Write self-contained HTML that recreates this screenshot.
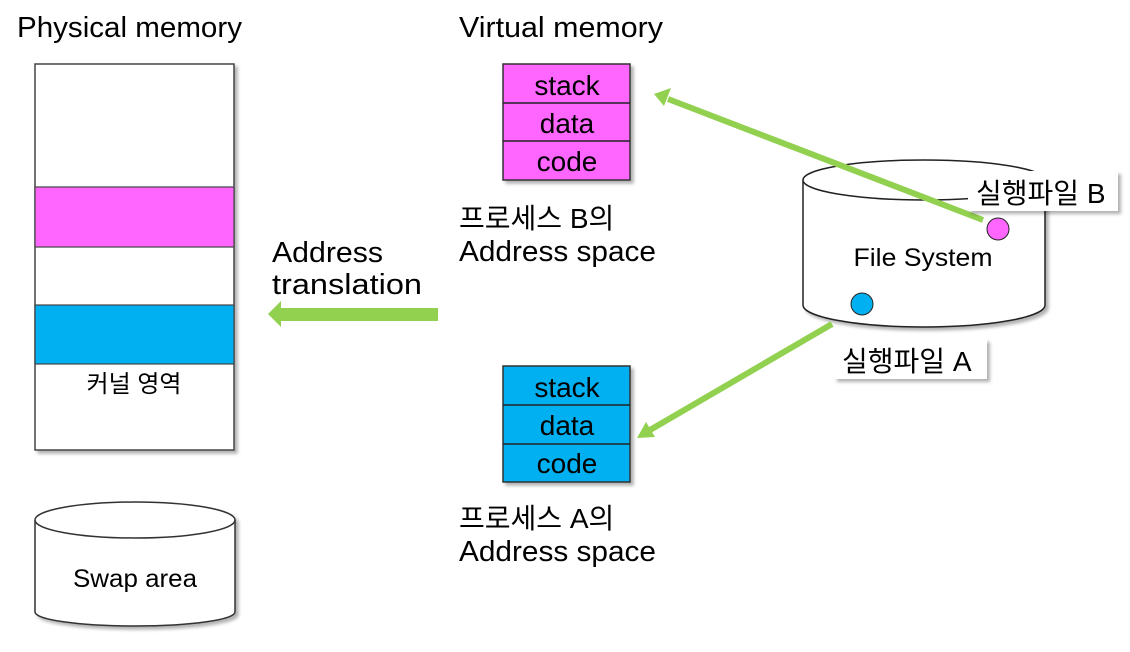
<!DOCTYPE html>
<html><head><meta charset="utf-8"><style>
html,body{margin:0;padding:0;background:#fff}
svg text{font-family:"Liberation Sans Narrow","Liberation Sans","Noto Sans CJK KR",sans-serif;fill:#000}
</style></head><body>
<svg width="1130" height="647" viewBox="0 0 1130 647" xmlns="http://www.w3.org/2000/svg">
<defs>
<filter id="sh" x="-10%" y="-10%" width="130%" height="130%"><feDropShadow dx="3" dy="3" stdDeviation="1.5" flood-color="#000" flood-opacity="0.3"/></filter>
</defs>
<!-- titles -->
<text x="17" y="37" font-size="29" textLength="225" lengthAdjust="spacingAndGlyphs">Physical memory</text>
<text x="459" y="37" font-size="29" textLength="204" lengthAdjust="spacingAndGlyphs">Virtual memory</text>

<!-- physical memory -->
<g filter="url(#sh)">
<rect x="35" y="64" width="199" height="386" fill="#fff" stroke="#444" stroke-width="1.5"/>
</g>
<rect x="35" y="187" width="199" height="60" fill="#ff66ff" stroke="#444" stroke-width="1.2"/>
<rect x="35" y="305" width="199" height="59" fill="#00b0f0" stroke="#444" stroke-width="1.2"/>
<text x="134" y="392" font-size="24" text-anchor="middle">커널 영역</text>

<!-- swap cylinder -->
<g filter="url(#sh)">
<path d="M35 520 L35 612 A100 14 0 0 0 235 612 L235 520" fill="#fff" stroke="#333" stroke-width="1.5"/>
<ellipse cx="135" cy="520" rx="100" ry="18" fill="#fff" stroke="#333" stroke-width="1.5"/>
</g>
<text x="135" y="587" font-size="25" text-anchor="middle" textLength="124" lengthAdjust="spacingAndGlyphs">Swap area</text>

<!-- process B -->
<g filter="url(#sh)">
<rect x="503" y="64" width="127" height="116" fill="#ff66ff" stroke="#333" stroke-width="1.5"/>
</g>
<line x1="503" y1="103" x2="630" y2="103" stroke="#222" stroke-width="1.5"/>
<line x1="503" y1="141" x2="630" y2="141" stroke="#222" stroke-width="1.5"/>
<text x="567" y="95" font-size="28" text-anchor="middle">stack</text>
<text x="567" y="133" font-size="28" text-anchor="middle">data</text>
<text x="567" y="171" font-size="28" text-anchor="middle">code</text>
<text x="459" y="228" font-size="28">프로세스 B의</text>
<text x="459" y="261" font-size="29" textLength="197" lengthAdjust="spacingAndGlyphs">Address space</text>

<!-- process A -->
<g filter="url(#sh)">
<rect x="503" y="366" width="127" height="116" fill="#00b0f0" stroke="#333" stroke-width="1.5"/>
</g>
<line x1="503" y1="405" x2="630" y2="405" stroke="#222" stroke-width="1.5"/>
<line x1="503" y1="444" x2="630" y2="444" stroke="#222" stroke-width="1.5"/>
<text x="567" y="397" font-size="28" text-anchor="middle">stack</text>
<text x="567" y="435" font-size="28" text-anchor="middle">data</text>
<text x="567" y="473" font-size="28" text-anchor="middle">code</text>
<text x="459" y="528" font-size="28">프로세스 A의</text>
<text x="459" y="561" font-size="29" textLength="197" lengthAdjust="spacingAndGlyphs">Address space</text>

<!-- address translation -->
<text x="272" y="262" font-size="29" textLength="111" lengthAdjust="spacingAndGlyphs">Address</text>
<text x="272" y="294" font-size="29" textLength="150" lengthAdjust="spacingAndGlyphs">translation</text>
<rect x="280" y="308" width="158" height="13" fill="#92d050"/>
<polygon points="268,314 281,301 281,327" fill="#92d050"/>

<!-- file system cylinder -->
<g filter="url(#sh)">
<path d="M803 180 L803 305 A121 22 0 0 0 1045 305 L1045 180" fill="#fff" stroke="#222" stroke-width="1.5"/>
<ellipse cx="924" cy="180" rx="121" ry="20" fill="#fff" stroke="#222" stroke-width="1.5"/>
</g>
<text x="923" y="266" font-size="25" text-anchor="middle" textLength="139" lengthAdjust="spacingAndGlyphs">File System</text>

<!-- arrows -->
<line x1="983" y1="220" x2="668" y2="99" stroke="#92d050" stroke-width="6"/>
<polygon points="654,94 671,88 664,106" fill="#92d050"/>
<line x1="832" y1="324" x2="650" y2="430" stroke="#92d050" stroke-width="6"/>
<polygon points="637,438 646,422 655,437" fill="#92d050"/>

<circle cx="998" cy="229" r="11" fill="#ff66ff" stroke="#222" stroke-width="1"/>
<circle cx="862" cy="304" r="11" fill="#00b0f0" stroke="#222" stroke-width="1"/>

<!-- labels -->
<g filter="url(#sh)">
<rect x="968" y="171" width="150" height="40" fill="#fff"/>
<rect x="834" y="339" width="153" height="40" fill="#fff"/>
</g>
<text x="976" y="203" font-size="28">실행파일 B</text>
<text x="842" y="371" font-size="28">실행파일 A</text>
</svg>
</body></html>
